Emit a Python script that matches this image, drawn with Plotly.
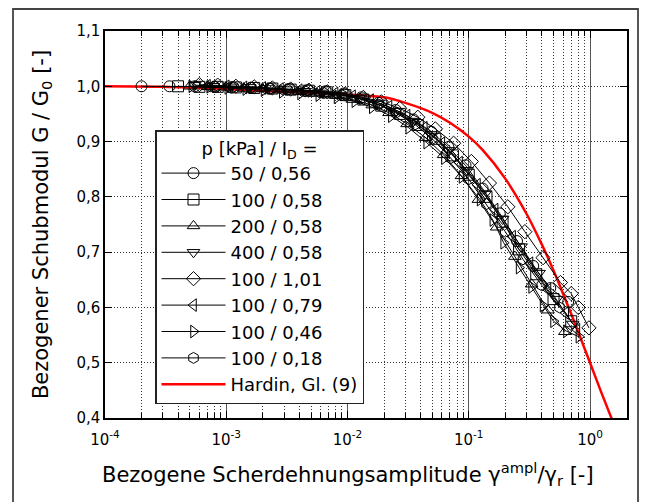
import plotly.graph_objects as go

# --- measured normalised shear modulus G/G0 vs. normalised shear strain amplitude ---
labels = ["50 / 0,56", "100 / 0,58", "200 / 0,58", "400 / 0,58",
          "100 / 1,01", "100 / 0,79", "100 / 0,46", "100 / 0,18"]
symbols = ["circle-open", "square-open", "triangle-up-open", "triangle-down-open",
           "diamond-open", "triangle-left-open", "triangle-right-open", "hexagon-open"]

x_50_056 = [2.0e-4, 3.4e-4, 5.5e-4, 8.0e-4, 1.1e-3, 1.6e-3, 2.3e-3, 3.3e-3, 4.7e-3, 6.6e-3,
            9.3e-3, 1.3e-2, 1.8e-2, 2.5e-2, 3.5e-2, 4.9e-2, 6.8e-2, 9.4e-2, 0.13, 0.18,
            0.25, 0.34, 0.47, 0.66]
y_50_056 = [1.000, 1.000, 1.000, 0.999, 0.998, 0.997, 0.996, 0.995, 0.993, 0.991,
            0.987, 0.980, 0.970, 0.957, 0.940, 0.918, 0.890, 0.857, 0.815, 0.770,
            0.720, 0.675, 0.635, 0.610]

x_100_058 = [4.0e-4, 6.0e-4, 8.5e-4, 1.2e-3, 1.7e-3, 2.4e-3, 3.4e-3, 4.8e-3, 6.8e-3, 9.6e-3,
             1.35e-2, 1.9e-2, 2.7e-2, 3.8e-2, 5.3e-2, 7.4e-2, 0.10, 0.14, 0.19, 0.26,
             0.36, 0.50, 0.70]
y_100_058 = [1.000, 0.999, 0.999, 0.998, 0.997, 0.996, 0.994, 0.992, 0.989, 0.984,
             0.976, 0.965, 0.950, 0.930, 0.905, 0.875, 0.840, 0.800, 0.755, 0.705,
             0.660, 0.615, 0.575]

x_200_058 = [5.0e-4, 7.0e-4, 1.0e-3, 1.4e-3, 2.0e-3, 2.8e-3, 4.0e-3, 5.6e-3, 8.0e-3, 1.1e-2,
             1.6e-2, 2.2e-2, 3.1e-2, 4.4e-2, 6.2e-2, 8.7e-2, 0.12, 0.17, 0.24, 0.33,
             0.45, 0.62]
y_200_058 = [1.000, 0.999, 0.998, 0.996, 0.995, 0.993, 0.990, 0.987, 0.983, 0.976,
             0.966, 0.952, 0.932, 0.907, 0.876, 0.838, 0.795, 0.745, 0.692, 0.642,
             0.595, 0.556]

x_400_058 = [5.5e-4, 7.8e-4, 1.1e-3, 1.55e-3, 2.2e-3, 3.1e-3, 4.4e-3, 6.2e-3, 8.8e-3, 1.25e-2,
             1.75e-2, 2.5e-2, 3.5e-2, 4.9e-2, 6.9e-2, 9.7e-2, 0.137, 0.19, 0.27, 0.38,
             0.53, 0.72]
y_400_058 = [1.002, 1.000, 0.999, 0.998, 0.996, 0.994, 0.991, 0.988, 0.984, 0.978,
             0.968, 0.955, 0.937, 0.913, 0.884, 0.848, 0.806, 0.760, 0.710, 0.662,
             0.615, 0.570]

x_100_101 = [6.0e-4, 8.5e-4, 1.2e-3, 1.7e-3, 2.4e-3, 3.4e-3, 4.8e-3, 6.8e-3, 9.6e-3, 1.35e-2,
             1.9e-2, 2.7e-2, 3.8e-2, 5.3e-2, 7.5e-2, 0.105, 0.148, 0.21, 0.29, 0.41,
             0.57, 0.70, 0.80, 0.98]
y_100_101 = [1.003, 1.002, 1.000, 0.999, 0.997, 0.995, 0.993, 0.990, 0.986, 0.980,
             0.972, 0.960, 0.944, 0.923, 0.897, 0.864, 0.825, 0.782, 0.737, 0.690,
             0.645, 0.625, 0.600, 0.563]

x_100_079 = [7.0e-4, 1.0e-3, 1.4e-3, 2.0e-3, 2.8e-3, 4.0e-3, 5.6e-3, 7.9e-3, 1.1e-2, 1.55e-2,
             2.2e-2, 3.1e-2, 4.3e-2, 6.0e-2, 8.4e-2, 0.118, 0.165, 0.23, 0.32, 0.45,
             0.63, 0.78]
y_100_079 = [1.001, 1.000, 0.998, 0.997, 0.995, 0.993, 0.990, 0.987, 0.982, 0.975,
             0.963, 0.947, 0.925, 0.897, 0.862, 0.822, 0.777, 0.728, 0.680, 0.632,
             0.590, 0.560]

x_100_046 = [5.2e-4, 7.3e-4, 1.03e-3, 1.45e-3, 2.05e-3, 2.9e-3, 4.1e-3, 5.8e-3, 8.2e-3, 1.15e-2,
             1.6e-2, 2.3e-2, 3.2e-2, 4.5e-2, 6.3e-2, 8.8e-2, 0.124, 0.158, 0.194, 0.26,
             0.33, 0.41, 0.50, 0.64, 0.81]
y_100_046 = [1.000, 0.999, 0.997, 0.995, 0.993, 0.990, 0.987, 0.984, 0.980, 0.973,
             0.962, 0.946, 0.925, 0.898, 0.870, 0.836, 0.795, 0.758, 0.717, 0.672,
             0.637, 0.603, 0.575, 0.557, 0.547]

x_100_018 = [8.0e-4, 1.15e-3, 1.6e-3, 2.3e-3, 3.2e-3, 4.5e-3, 6.4e-3, 9.0e-3, 1.27e-2, 1.8e-2,
             2.5e-2, 3.6e-2, 5.0e-2, 7.1e-2, 0.10, 0.14, 0.20, 0.28, 0.40, 0.56]
y_100_018 = [1.000, 0.999, 0.998, 0.996, 0.994, 0.991, 0.988, 0.984, 0.977, 0.967,
             0.952, 0.931, 0.905, 0.870, 0.832, 0.787, 0.737, 0.687, 0.640, 0.600]

series_x = [x_50_056, x_100_058, x_200_058, x_400_058, x_100_101, x_100_079, x_100_046, x_100_018]
series_y = [y_50_056, y_100_058, y_200_058, y_400_058, y_100_101, y_100_079, y_100_046, y_100_018]

# --- Hardin curve, Gl. (9) ---
x_hardin = [1e-4, 3e-4, 1e-3, 3e-3, 1e-2, 2e-2, 3e-2, 5e-2, 7e-2, 0.1,
            0.13, 0.2, 0.3, 0.4, 0.5, 0.7, 1.0, 1.25, 1.52]
y_hardin = [1.000, 0.999, 0.995, 0.990, 0.985, 0.980, 0.970, 0.952, 0.934, 0.909,
            0.885, 0.833, 0.769, 0.714, 0.667, 0.588, 0.500, 0.444, 0.397]

x_tickvals = [1e-4, 1e-3, 1e-2, 1e-1, 1e0]
x_ticktext = ["10<sup>-4</sup>", "10<sup>-3</sup>", "10<sup>-2</sup>", "10<sup>-1</sup>", "10<sup>0</sup>"]
x_minorvals = [k * 10.0 ** e for e in range(-4, 0) for k in range(2, 10)]

x_title = "Bezogene Scherdehnungsamplitude γ<sup>ampl</sup>/γ<sub>r</sub> [-]"
y_title = "Bezogener Schubmodul G / G<sub>0</sub> [-]"

FONT = "DejaVu Sans, Liberation Sans, Arial, sans-serif"

fig = go.Figure()

# red reference curve sits underneath the measurements
fig.add_trace(go.Scatter(
    x=x_hardin, y=y_hardin, mode="lines", name="Hardin, Gl. (9)",
    line=dict(color="#ff0000", width=2.5, shape="spline", smoothing=0.8),
    legendrank=9,
))

for i, (xs, ys, lab, sym) in enumerate(zip(series_x, series_y, labels, symbols)):
    fig.add_trace(go.Scatter(
        x=xs, y=ys, mode="lines+markers", name=lab,
        line=dict(color="black", width=1),
        marker=dict(symbol=sym, size=11, color="black", line=dict(width=1, color="black")),
        legendrank=i + 1,
    ))

# plot frame position in pixels
W, H = 645, 502
L, R, T, B = 105, 18, 31, 84
pw, ph = W - L - R, H - T - B

def px_x(p):
    return (p - L) / pw

def px_y(p):
    return (H - B - p) / ph

fig.update_layout(
    width=W, height=H,
    margin=dict(l=L, r=R, t=T, b=B),
    paper_bgcolor="white", plot_bgcolor="white",
    separators=",.",
    font=dict(family=FONT, color="black", size=15),
    showlegend=True,
    legend=dict(
        x=px_x(155), y=px_y(130), xanchor="left", yanchor="top",
        bgcolor="white", bordercolor="#222", borderwidth=1.5,
        font=dict(family=FONT, size=18, color="black"),
        title=dict(text="p [kPa] / I<sub>D</sub> =", side="top center",
                   font=dict(family=FONT, size=18, color="black")),
        itemwidth=64, tracegroupgap=0,
    ),
    shapes=[dict(
        type="rect", xref="paper", yref="paper",
        x0=px_x(13), x1=px_x(638), y0=px_y(504), y1=px_y(9),
        line=dict(color="#444", width=1.8), fillcolor="rgba(0,0,0,0)", layer="below",
    )],
    annotations=[dict(
        text=x_title, xref="paper", yref="paper",
        x=px_x(348), y=px_y(474), xanchor="center", yanchor="middle",
        showarrow=False, font=dict(family=FONT, size=21, color="black"),
    )],
)

fig.update_xaxes(
    type="log", range=[-4, 0.305],
    tickmode="array", tickvals=x_tickvals, ticktext=x_ticktext,
    tickfont=dict(family=FONT, size=15, color="black"),
    ticks="inside", ticklen=7, tickcolor="black", ticklabelstandoff=7,
    showgrid=True, gridcolor="#555", gridwidth=1.3,
    showline=True, linecolor="black", linewidth=1.5, mirror="allticks",
    minor=dict(tickmode="array", tickvals=x_minorvals, ticks="inside", ticklen=5,
               tickcolor="black", showgrid=True, gridcolor="#333", griddash="1px,2px",
               gridwidth=1),
    zeroline=False,
)

fig.update_yaxes(
    range=[0.4, 1.1], dtick=0.1, tick0=0.4, tickformat=".1f",
    tickfont=dict(family=FONT, size=15, color="black"),
    ticks="inside", ticklen=7, tickcolor="black",
    showgrid=True, gridcolor="#333", griddash="1px,2px", gridwidth=1,
    showline=True, linecolor="black", linewidth=1.5, mirror="allticks",
    title=dict(text=y_title, font=dict(family=FONT, size=21, color="black"), standoff=22),
    zeroline=False,
)

fig.write_html("out.html")
